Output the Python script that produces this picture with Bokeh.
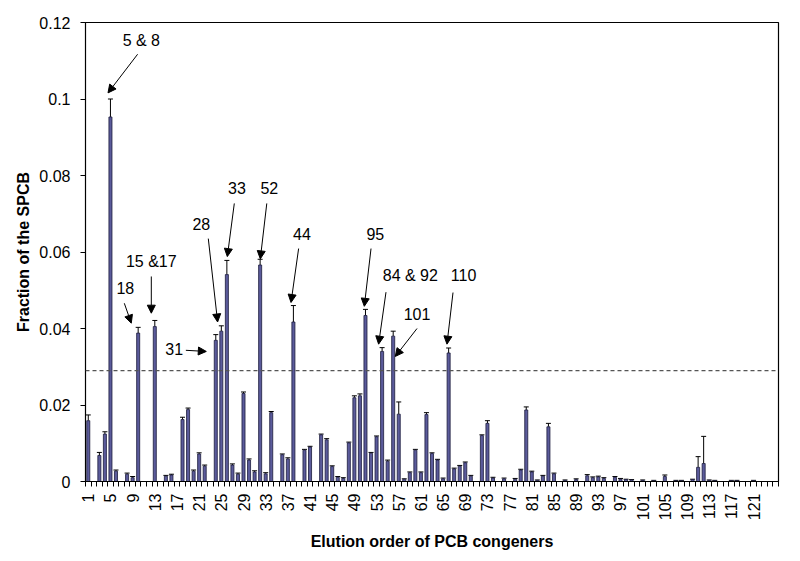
import math
from bokeh.plotting import figure
from bokeh.models import (ColumnDataSource, FixedTicker, Span, Whisker, TeeHead,
                          Arrow, NormalHead, Label)
from bokeh.embed import file_html
from bokeh.resources import INLINE

# ---- data ----
order = list(range(1, 126))
fraction = [
    0.0159, 0.0, 0.0068, 0.0124, 0.0953, 0.0027, 0.0, 0.0019, 0.0010, 0.0388,
    0.0, 0.0, 0.0405, 0.0, 0.0014, 0.0017, 0.0, 0.0162, 0.0188, 0.0027,
    0.0072, 0.0040, 0.0, 0.0369, 0.0393, 0.0541, 0.0043, 0.0019, 0.0230, 0.0056,
    0.0025, 0.0566, 0.0020, 0.0180, 0.0, 0.0070, 0.0059, 0.0417, 0.0, 0.0082,
    0.0090, 0.0, 0.0122, 0.0109, 0.0039, 0.0011, 0.0008, 0.0101, 0.0219, 0.0224,
    0.0434, 0.0074, 0.0117, 0.0340, 0.0053, 0.0380, 0.0176, 0.0006, 0.0023, 0.0082,
    0.0023, 0.0175, 0.0073, 0.0056, 0.0007, 0.0336, 0.0033, 0.0040, 0.0049, 0.0014,
    0.0, 0.0120, 0.0152, 0.0009, 0.0, 0.0007, 0.0, 0.0006, 0.0030, 0.0187,
    0.0025, 0.0003, 0.0014, 0.0143, 0.0020, 0.0, 0.0003, 0.0, 0.0005, 0.0,
    0.0015, 0.0010, 0.0012, 0.0008, 0.0, 0.0011, 0.0006, 0.0005, 0.0004, 0.0,
    0.0003, 0.0, 0.0002, 0.0, 0.0013, 0.0, 0.0002, 0.0002, 0.0, 0.0005,
    0.0037, 0.0047, 0.0003, 0.0002, 0.0, 0.0, 0.0002, 0.0002, 0.0, 0.0,
    0.0002, 0.0, 0.0, 0.0, 0.0,
]
error = [
    0.0015, 0.0, 0.0008, 0.0006, 0.0047, 0.0003, 0.0, 0.0003, 0.0003, 0.0015,
    0.0, 0.0, 0.0016, 0.0, 0.0002, 0.0002, 0.0, 0.0006, 0.0004, 0.0003,
    0.0003, 0.0003, 0.0, 0.0015, 0.0014, 0.0037, 0.0003, 0.0003, 0.0004, 0.0003,
    0.0003, 0.0015, 0.0003, 0.0003, 0.0, 0.0002, 0.0003, 0.0043, 0.0, 0.0002,
    0.0002, 0.0, 0.0002, 0.0003, 0.0002, 0.0002, 0.0002, 0.0002, 0.0005, 0.0005,
    0.0016, 0.0002, 0.0002, 0.0010, 0.0003, 0.0013, 0.0032, 0.0001, 0.0002, 0.0002,
    0.0002, 0.0005, 0.0002, 0.0002, 0.0002, 0.0013, 0.0002, 0.0002, 0.0002, 0.0002,
    0.0, 0.0002, 0.0007, 0.0002, 0.0, 0.0002, 0.0, 0.0002, 0.0002, 0.0008,
    0.0002, 0.0001, 0.0002, 0.0009, 0.0002, 0.0, 0.0001, 0.0, 0.0002, 0.0,
    0.0003, 0.0002, 0.0002, 0.0002, 0.0, 0.0002, 0.0002, 0.0001, 0.0001, 0.0,
    0.0001, 0.0, 0.0001, 0.0, 0.0004, 0.0, 0.0001, 0.0001, 0.0, 0.0001,
    0.0028, 0.0071, 0.0001, 0.0001, 0.0, 0.0, 0.0001, 0.0001, 0.0, 0.0,
    0.0001, 0.0, 0.0, 0.0, 0.0,
]
threshold = 0.029
y_ticks = [0, 0.02, 0.04, 0.06, 0.08, 0.1, 0.12]
y_tick_labels = ["0", "0.02", "0.04", "0.06", "0.08", "0.1", "0.12"]
x_tick_values = list(range(1, 122, 4))

# annotation labels: text, text position, arrow start, arrow end (data coords)
ann_text = ["5 & 8", "18", "15 &17", "28", "31", "33", "52", "44", "95", "84 & 92", "110", "101"]
ann_tx = [10.57, 7.68, 12.37, 21.39, 16.5, 27.83, 33.65, 39.55, 52.77, 59.09, 68.7, 60.3]
ann_ty = [0.1154, 0.0505, 0.0575, 0.0674, 0.0346, 0.0768, 0.0768, 0.0648, 0.0648, 0.0539, 0.0539, 0.0439]
arr_x0 = [9.9, 7.5, 12.37, 22.65, 18.6, 27.34, 33.2, 38.94, 52.0, 54.7, 66.79, 60.3]
arr_y0 = [0.1117, 0.0466, 0.0536, 0.0635, 0.0343, 0.0727, 0.0727, 0.0609, 0.0609, 0.0495, 0.0494, 0.0400]
arr_x1 = [4.56, 8.76, 12.37, 24.33, 22.29, 26.08, 32.03, 37.57, 50.79, 53.37, 65.7, 56.38]
arr_y1 = [0.1016, 0.0414, 0.0440, 0.0417, 0.0340, 0.0588, 0.0582, 0.0468, 0.0458, 0.0359, 0.0359, 0.0327]

FONT = "Liberation Sans"

err_top = [f + e for f, e in zip(fraction, error)]
src = ColumnDataSource(dict(x=order, top=fraction, upper=err_top))

p = figure(width=792, height=553, output_backend="svg", toolbar_location=None,
           x_range=(0.5, 125.5), y_range=(0, 0.12),
           min_border_left=85, min_border_right=14, min_border_top=22, min_border_bottom=70)
p.grid.visible = False
p.outline_line_color = "black"
p.outline_line_width = 1.2
p.background_fill_color = "white"
p.border_fill_color = "white"

p.vbar(x="x", top="top", bottom=0, width=0.55, source=src,
       fill_color="#5b5b9b", line_color="#1c1c3c", line_width=0.8)

wh = Whisker(base="x", lower="top", upper="upper", source=src,
             line_color="black", line_width=1,
             upper_head=TeeHead(size=5, line_color="black", line_width=1),
             lower_head=None)
p.add_layout(wh)

p.add_layout(Span(location=threshold, dimension="width", line_color="#555555",
                  line_dash="4 3", line_width=1.2))

for t, tx, ty, x0, y0, x1, y1 in zip(ann_text, ann_tx, ann_ty, arr_x0, arr_y0, arr_x1, arr_y1):
    p.add_layout(Label(x=tx, y=ty, text=t, text_align="center", text_baseline="middle",
                       text_font=FONT, text_font_size="16px", text_color="black"))
    p.add_layout(Arrow(x_start=x0, y_start=y0, x_end=x1, y_end=y1,
                       line_color="black", line_width=1,
                       end=NormalHead(size=8, fill_color="black", line_color="black")))

# x axis
xa = p.xaxis[0]
xa.ticker = FixedTicker(ticks=x_tick_values, minor_ticks=[i + 0.5 for i in range(0, 126)])
xa.major_tick_out = 0
xa.major_tick_in = 0
xa.minor_tick_out = 5
xa.minor_tick_in = 0
xa.major_label_orientation = math.pi / 2
xa.major_label_text_font = FONT
xa.major_label_text_font_size = "16px"
xa.major_label_text_color = "black"
xa.major_label_standoff = 7
xa.axis_label = "Elution order of PCB congeners"
xa.axis_label_text_font = FONT
xa.axis_label_text_font_style = "bold"
xa.axis_label_text_font_size = "16px"
xa.axis_label_text_color = "black"
xa.axis_label_standoff = 10
xa.axis_line_color = "black"

# y axis
ya = p.yaxis[0]
ya.ticker = FixedTicker(ticks=y_ticks)
ya.major_label_overrides = {v: s for v, s in zip(y_ticks, y_tick_labels)}
ya.major_tick_out = 5
ya.major_tick_in = 0
ya.minor_tick_out = 0
ya.minor_tick_in = 0
ya.major_label_text_font = FONT
ya.major_label_text_font_size = "16px"
ya.major_label_text_color = "black"
ya.major_label_standoff = 10
ya.axis_label = "Fraction of the SPCB"
ya.axis_label_text_font = FONT
ya.axis_label_text_font_style = "bold"
ya.axis_label_text_font_size = "16px"
ya.axis_label_text_color = "black"
ya.axis_label_standoff = 4
ya.axis_line_color = "black"

open("out.html", "w").write(file_html(p, INLINE))
